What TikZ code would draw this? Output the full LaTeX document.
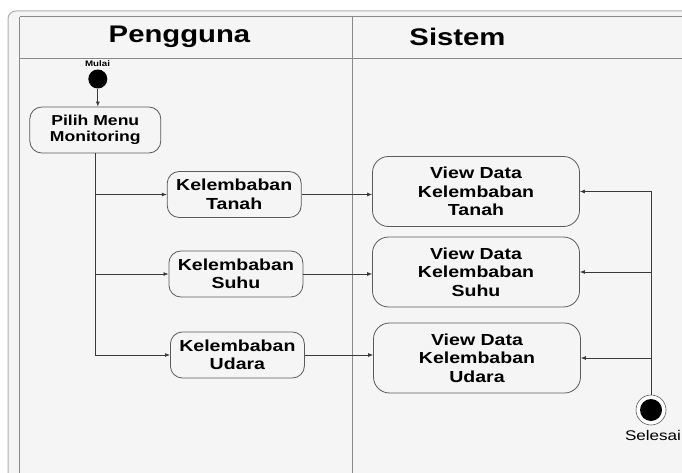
\documentclass[tikz,border=0pt]{standalone}
\usepackage{fontspec}
\setmainfont{Liberation Sans}[FakeStretch=1.22]
\usepackage{xcolor}
\usetikzlibrary{positioning,arrows.meta}

\definecolor{lanebg}{HTML}{F5F5F5}
\definecolor{lanegray}{HTML}{8A8A8A}
\definecolor{framegray}{HTML}{B0B0B0}
\definecolor{boxgray}{HTML}{5A5A5A}
\definecolor{wiregray}{HTML}{3A3A3A}

\begin{document}
\begin{tikzpicture}[
    x=1pt, y=-1pt,
    actbox/.style={draw=boxgray, line width=0.8pt, rounded corners=12pt, fill=lanebg, align=center, inner sep=0pt,
        font=\bfseries\fontsize{16}{18.5}\selectfont},
    viewbox/.style={actbox, minimum width=207pt, minimum height=70pt, rounded corners=16pt},
    choicebox/.style={actbox, minimum width=134pt, minimum height=46pt},
    flow/.style={-{Latex[length=5pt,width=4pt]}, draw=wiregray, line width=0.7pt},
    lane/.style={draw=lanegray, line width=1pt},
    title/.style={font=\bfseries\fontsize{24}{28}\selectfont}
]
\useasboundingbox (0,0) rectangle (682,473);
\fill[white] (0,0) rectangle (682,473);

% swimlane frame
\draw[draw=framegray, line width=1pt, rounded corners=8pt, fill=lanebg] (8,11) rectangle (720,500);
\draw[lane] (19.6,17) -- (720,17);
\draw[lane] (19.6,58.5) -- (720,58.5);
\draw[lane] (19.6,17) -- (19.6,500);
\draw[lane] (352,17) -- (352,500);

\node[title] (pengguna) at (179.5,37) {Pengguna};
\node[title] (sistem) at (457.5,37) {Sistem};

% Pengguna lane
\node[circle, fill=black, minimum size=19pt, inner sep=0pt] (mulai) at (97.8,79) {};
\node[font=\bfseries\fontsize{8}{9}\selectfont] (mulaitxt) at (97.5,64) {Mulai};
\node[actbox, minimum width=131pt, minimum height=46pt, font=\bfseries\fontsize{14.4}{16.5}\selectfont] (pilih) at (95.3,130) {Pilih Menu\\Monitoring};

\node[choicebox] (tanah) at (234.2,194.5) {Kelembaban\\Tanah};
\node[choicebox] (suhu) at (235.9,274) {Kelembaban\\Suhu};
\node[choicebox] (udara) at (237.4,355) {Kelembaban\\Udara};

% Sistem lane
\node[viewbox] (vtanah) at (476,191.5) {View Data\\Kelembaban\\Tanah};
\node[viewbox] (vsuhu) at (476,272) {View Data\\Kelembaban\\Suhu};
\node[viewbox] (vudara) at (477,358) {View Data\\Kelembaban\\Udara};

\node[circle, draw=boxgray, line width=0.6pt, fill=white, minimum size=30pt, inner sep=0pt,
    path picture={\fill[black] (path picture bounding box.center) circle (11pt);}] (selesai) at (651,410) {};
\node[font=\fontsize{14}{16}\selectfont] (selesaitxt) at (653,435) {Selesai};

% connectors
\draw[flow] (mulai) -- (mulai |- pilih.north);
\draw[flow] (pilih.south) |- (udara.west);
\draw[flow] (pilih.south |- tanah.west) -- (tanah.west);
\draw[flow] (pilih.south |- suhu.west) -- (suhu.west);

\draw[flow] (tanah.east) -- (tanah.east -| vtanah.west);
\draw[flow] (suhu.east) -- (suhu.east -| vsuhu.west);
\draw[flow] (udara.east) -- (udara.east -| vudara.west);

\draw[flow] (selesai.north) |- (vtanah.east);
\draw[flow] (selesai.north |- vsuhu.east) -- (vsuhu.east);
\draw[flow] (selesai.north |- vudara.east) -- (vudara.east);

\end{tikzpicture}
\end{document}
